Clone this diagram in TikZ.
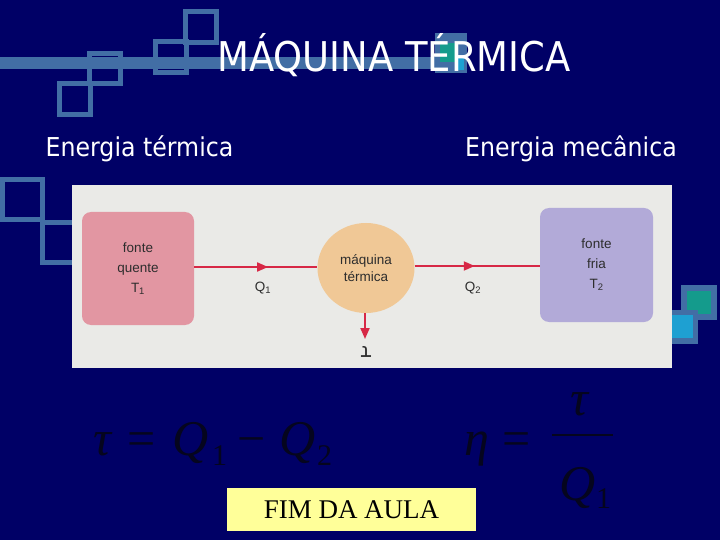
\documentclass[tikz,border=0pt]{standalone}
\usepackage{fontspec}
\setmainfont{Liberation Serif}
\newfontfamily\dejavu{DejaVu Sans}
\newfontfamily\arial{Liberation Sans}
\usetikzlibrary{shapes.geometric,arrows.meta,decorations.markings}
\definecolor{navy}{RGB}{0,0,102}
\definecolor{steel}{RGB}{66,110,165}
\definecolor{tealsq}{RGB}{20,155,140}
\definecolor{cyansq}{RGB}{30,160,210}
\definecolor{photobg}{RGB}{234,234,231}
\definecolor{hotc}{RGB}{226,150,162}
\definecolor{coldc}{RGB}{178,170,216}
\definecolor{peach}{RGB}{240,200,150}
\definecolor{arrowred}{RGB}{215,40,70}
\definecolor{fimyellow}{RGB}{255,255,153}
\definecolor{labelgray}{RGB}{45,45,45}
\definecolor{formula}{RGB}{5,5,30}
\begin{document}
\begin{tikzpicture}[x=1bp,y=-1bp,
  frame/.style={draw=steel,line width=5bp},
  slidetext/.style={anchor=base,text=white,inner sep=0pt,xscale=0.91,font=\dejavu\fontsize{26bp}{26bp}\selectfont},
  box/.style={rounded corners=9bp,inner sep=0pt,align=center,text=labelgray,font=\arial\fontsize{13.5bp}{20bp}\selectfont},
  lbl/.style={inner sep=0pt,text=labelgray,font=\arial\fontsize{13.5bp}{14bp}\selectfont},
  flow/.style={draw=arrowred,line width=2bp},
  midarrow/.style={postaction={decorate},decoration={markings,mark=at position #1 with {\arrow{Triangle[length=11bp,width=9bp]}}}},
  fbig/.style={anchor=base west,inner sep=0pt,text=formula,font=\fontsize{50bp}{50bp}\selectfont},
  fsub/.style={anchor=base west,inner sep=0pt,text=formula,font=\fontsize{30bp}{30bp}\selectfont}]
\useasboundingbox (0,0) rectangle (720,540);
\fill[navy] (0,0) rectangle (720,540);
% decorations top-left
\fill[steel] (0,57) rectangle (440,69);
\draw[frame] (89.5,53.5) rectangle (120.5,83.5);
\draw[frame] (59.5,83.5) rectangle (90.5,114.5);
\draw[frame] (155.5,41.5) rectangle (186.5,72.5);
\draw[frame] (185.5,11.5) rectangle (216.5,42.5);
% motif near title
\fill[steel] (435,33) rectangle (467,73);
\fill[tealsq] (440,43) rectangle (458,62);
\fill[cyansq] (455,58) rectangle (464,70);
% left middle squares
\draw[frame] (2.5,179.5) rectangle (42.5,219.5);
\draw[frame] (42.5,222.5) rectangle (82.5,262.5);
% bottom-right motif
\fill[steel] (681,285) rectangle (717,320);
\fill[tealsq] (687,291) rectangle (711,314);
\fill[steel] (666,310) rectangle (698,344);
\fill[cyansq] (671,315) rectangle (693,338);
% photo
\fill[photobg] (72,185) rectangle (672,368);
% title and headings
\node[anchor=base,text=white,inner sep=0pt,xscale=0.9,font=\dejavu\fontsize{41bp}{41bp}\selectfont] (title) at (394,72) {MÁQUINA TÉRMICA};
\node[slidetext] (et) at (139.5,157) {Energia térmica};
\node[slidetext] (em) at (571,157) {Energia mecânica};
% diagram
\node[box,fill=hotc,minimum width=112bp,minimum height=113bp] (hot) at (138,268.5) {fonte\\quente\\T\textsubscript{1}};
\node[box,fill=coldc,minimum width=113bp,minimum height=114bp] (cold) at (596.5,265) {fonte\\fria\\T\textsubscript{2}};
\node[ellipse,fill=peach,inner sep=0pt,minimum width=97bp,minimum height=90bp,align=center,text=labelgray,font=\arial\fontsize{13.5bp}{17bp}\selectfont] (eng) at (366,268) {máquina\\térmica};
\draw[flow,midarrow=0.6] (hot.east |- 0,267) -- (eng.west |- 0,267);
\draw[flow,midarrow=0.48] (eng.east |- 0,266) -- (cold.west |- 0,266);
\coordinate (tauend) at (365,339);
\draw[flow,-{Triangle[length=11bp,width=9bp]}] (365,313) -- (tauend);
\node[lbl] (q1) at (263,288) {Q\textsubscript{1}};
\node[lbl] (q2) at (473,288) {Q\textsubscript{2}};
\node[inner sep=0pt,text=labelgray,rotate=180,font=\dejavu\fontsize{20bp}{20bp}\selectfont] (tau) at (366,352) {τ};
% formulas
\node[fbig] (f1a) at (93,455) {\itshape τ};
\node[fbig] (f1b) at (127,455) {=};
\node[fbig] (f1c) at (172,455) {\itshape Q};
\node[fsub] (f1d) at (212,465) {1};
\node[fbig] (f1e) at (237,455) {−};
\node[fbig] (f1f) at (279,455) {\itshape Q};
\node[fsub] (f1g) at (317,465) {2};
\node[fbig] (f2a) at (464,455) {\itshape η};
\node[fbig] (f2b) at (502,455) {=};
\draw[formula,line width=2.5bp] (552,435) -- (613,435);
\node[fbig] (f2c) at (570,415) {\itshape τ};
\node[fbig] (f2d) at (559,500) {\itshape Q};
\node[fsub] (f2e) at (596,508) {1};
% end box
\node[fill=fimyellow,minimum width=249bp,minimum height=43bp,inner sep=0pt,font=\fontsize{27bp}{27bp}\selectfont] (fim) at (351.5,509.5) {FIM DA AULA};
\end{tikzpicture}
\end{document}
